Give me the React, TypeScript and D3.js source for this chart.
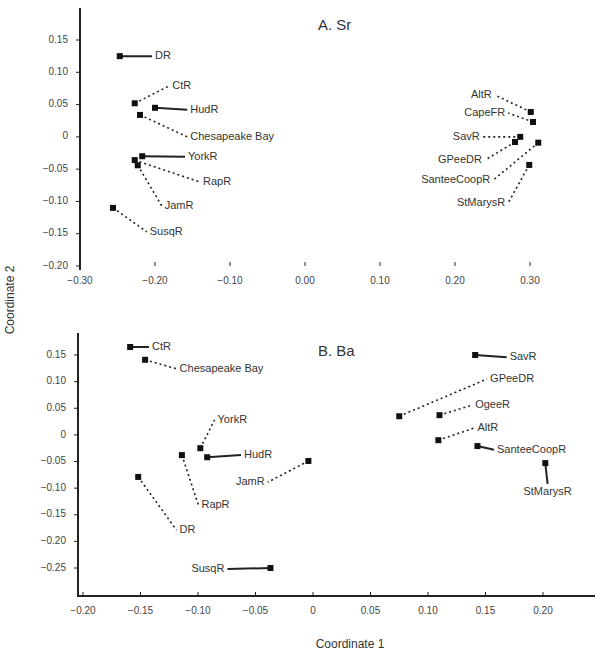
import React, { useRef, useEffect } from "react";
import * as d3 from "d3";

// site names
const namesA = ["DR", "CtR", "HudR", "Chesapeake Bay", "YorkR", "RapR", "JamR", "SusqR",
  "AltR", "CapeFR", "SavR", "GPeeDR", "SanteeCoopR", "StMarysR"];
const xA = [-0.247, -0.227, -0.2, -0.22, -0.217, -0.227, -0.223, -0.256,
  0.301, 0.304, 0.287, 0.28, 0.311, 0.299];
const yA = [0.125, 0.052, 0.045, 0.034, -0.03, -0.036, -0.044, -0.11,
  0.0385, 0.023, 0.0, -0.008, -0.009, -0.0435];
// label anchors (data units)
const lxA = [-0.2, -0.177, -0.153, -0.153, -0.156, -0.136, -0.187, -0.207,
  0.249, 0.267, 0.233, 0.236, 0.247, 0.267];
const lyA = [0.125, 0.079, 0.042, 0.0, -0.031, -0.07, -0.107, -0.147,
  0.065, 0.037, 0.0, -0.036, -0.067, -0.102];
const dashA = [false, true, false, true, false, true, true, true,
  true, true, true, true, true, true];
const sideA = ["start", "start", "start", "start", "start", "start", "start", "start",
  "end", "end", "end", "end", "end", "end"];

const namesB = ["CtR", "Chesapeake Bay", "YorkR", "HudR", "RapR", "DR", "JamR", "SusqR",
  "SavR", "GPeeDR", "OgeeR", "AltR", "SanteeCoopR", "StMarysR"];
const xB = [-0.159, -0.146, -0.098, -0.092, -0.114, -0.152, -0.004, -0.037,
  0.141, 0.075, 0.11, 0.109, 0.143, 0.202];
const yB = [0.165, 0.141, -0.025, -0.042, -0.038, -0.079, -0.049, -0.25,
  0.15, 0.035, 0.037, -0.01, -0.021, -0.053];
const lxB = [-0.14, -0.116, -0.083, -0.06, -0.097, -0.116, -0.042, -0.077,
  0.171, 0.154, 0.141, 0.143, 0.16, 0.204];
const lyB = [0.165, 0.124, 0.028, -0.038, -0.132, -0.179, -0.089, -0.252,
  0.146, 0.105, 0.056, 0.013, -0.028, -0.107];
const dashB = [false, true, true, false, true, true, true, false,
  false, true, true, true, false, false];
const sideB = ["start", "start", "start", "start", "start", "start", "end", "end",
  "start", "start", "start", "start", "start", "middle"];

const ticksXA = [-0.3, -0.2, -0.1, 0, 0.1, 0.2, 0.3];
const ticksYA = [0.15, 0.1, 0.05, 0, -0.05, -0.1, -0.15, -0.2];
const ticksXB = [-0.2, -0.15, -0.1, -0.05, 0, 0.05, 0.1, 0.15, 0.2];
const ticksYB = [0.15, 0.1, 0.05, 0, -0.05, -0.1, -0.15, -0.2, -0.25];

export default function App() {
  const ref = useRef<SVGSVGElement>(null);

  useEffect(() => {
    document.body.style.margin = "0";
    const svg = d3.select(ref.current);
    svg.selectAll("*").remove();
    const font = "'Liberation Sans', Arial, sans-serif";

    function panel(opts: any) {
      const { x, y, names, xs, ys, lxs, lys, dash, side, title, titleX, titleY, tx, ty, yLine, xLine } = opts;
      const g = svg.append("g");
      const x0 = opts.axisX;

      // y axis
      g.append("line")
        .attr("x1", x0).attr("x2", x0)
        .attr("y1", yLine[0]).attr("y2", yLine[1])
        .attr("stroke", "#222").attr("stroke-width", 2);
      ty.forEach((t: number) => {
        g.append("line").attr("x1", x0 - 4).attr("x2", x0)
          .attr("y1", y(t)).attr("y2", y(t)).attr("stroke", "#222");
        g.append("text").attr("x", x0 - 12).attr("y", y(t))
          .attr("text-anchor", "end").attr("dominant-baseline", "middle")
          .attr("font-size", 10).attr("fill", "#444").attr("font-family", font)
          .text(t === 0 ? "0" : d3.format(".2f")(t));
      });

      // x axis
      if (xLine) {
        g.append("line").attr("x1", xLine[0]).attr("x2", xLine[1])
          .attr("y1", xLine[2]).attr("y2", xLine[2])
          .attr("stroke", "#222").attr("stroke-width", 2);
      }
      tx.forEach((t: number) => {
        g.append("line").attr("x1", x(t)).attr("x2", x(t))
          .attr("y1", opts.xTickY - 4).attr("y2", opts.xTickY).attr("stroke", "#222");
        g.append("text").attr("x", x(t)).attr("y", opts.xTickY + 18)
          .attr("text-anchor", "middle").attr("font-size", 10).attr("fill", "#444")
          .attr("font-family", font)
          .text(t === 0 ? (opts.zeroLabel || "0") : d3.format(".2f")(t));
      });

      g.append("text").attr("x", titleX).attr("y", titleY)
        .attr("font-size", 15).attr("fill", "#333").attr("font-family", font)
        .text(title);

      names.forEach((name: string, i: number) => {
        const px = x(xs[i]), py = y(ys[i]);
        const lx = x(lxs[i]), ly = y(lys[i]);
        const anchor = side[i];
        let ex = lx - 3, ey = ly;
        if (anchor === "end") ex = lx + 3;
        if (anchor === "middle") { ex = lx; ey = ly - 8; }
        g.append("line").attr("x1", px).attr("y1", py).attr("x2", ex).attr("y2", ey)
          .attr("stroke", "#222")
          .attr("stroke-width", dash[i] ? 1.6 : 2)
          .attr("stroke-dasharray", dash[i] ? "2,3" : null);
        g.append("rect").attr("x", px - 3).attr("y", py - 3)
          .attr("width", 6).attr("height", 6).attr("fill", "#111");
        g.append("text").attr("x", lx).attr("y", ly)
          .attr("text-anchor", anchor).attr("dominant-baseline", "middle")
          .attr("font-size", 11).attr("fill", "#333").attr("font-family", font)
          .text(name);
      });
    }

    const xa = d3.scaleLinear().domain([-0.3, 0.3]).range([80, 530]);
    const ya = d3.scaleLinear().domain([-0.2, 0.15]).range([266, 40]);
    panel({
      x: xa, y: ya, names: namesA, xs: xA, ys: yA, lxs: lxA, lys: lyA, dash: dashA, side: sideA,
      title: "A. Sr", titleX: 318, titleY: 30, axisX: 80,
      tx: ticksXA, ty: ticksYA, yLine: [8, 270], xLine: null, xTickY: 266,
      zeroLabel: "0.00",
    });

    const xb = d3.scaleLinear().domain([-0.2, 0.2]).range([83, 543]);
    const yb = d3.scaleLinear().domain([-0.25, 0.15]).range([568, 355]);
    panel({
      x: xb, y: yb, names: namesB, xs: xB, ys: yB, lxs: lxB, lys: lyB, dash: dashB, side: sideB,
      title: "B. Ba", titleX: 318, titleY: 356, axisX: 78,
      tx: ticksXB, ty: ticksYB, yLine: [333, 597], xLine: [78, 595, 596], xTickY: 596,
    });

    svg.append("text")
      .attr("transform", "translate(14,300) rotate(-90)")
      .attr("text-anchor", "middle").attr("font-size", 12).attr("fill", "#333")
      .attr("font-family", font).text("Coordinate 2");
    svg.append("text")
      .attr("x", 350).attr("y", 648)
      .attr("text-anchor", "middle").attr("font-size", 12).attr("fill", "#333")
      .attr("font-family", font).text("Coordinate 1");
  }, []);

  return <svg ref={ref} width={595} height={666} style={{ display: "block", background: "#fff" }}></svg>;
}
